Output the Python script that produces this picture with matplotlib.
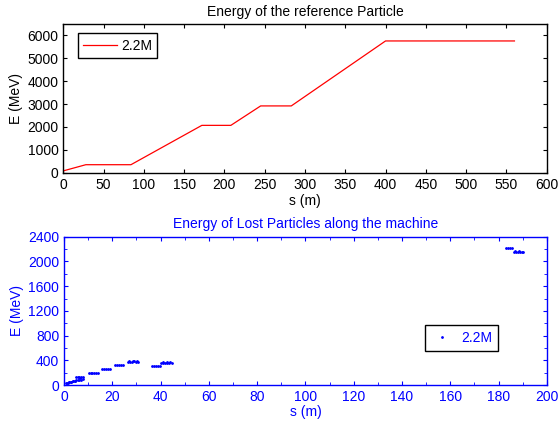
import matplotlib.pyplot as plt
from matplotlib.ticker import MultipleLocator

plt.rcParams['font.family'] = ['Liberation Sans', 'DejaVu Sans']

# reference particle energy along the machine
s_ref = [0, 28, 84, 172, 208, 245, 283, 400, 560]
E_ref = [80, 350, 350, 2070, 2070, 2920, 2920, 5760, 5760]

# lost particles (s in m, E in MeV)
s_lost = [0.8, 1.5, 2.2, 3.0, 3.8, 4.5, 1.2, 2.0, 2.8, 3.6, 4.4,
          4.8, 5.6, 6.4, 7.2, 8.0, 4.8, 5.6, 6.4, 7.2, 8.0, 6.5,
          10.2, 11.0, 11.8, 12.6, 13.4, 14.0,
          15.7, 16.5, 17.3, 18.1, 19.0,
          21.2, 22.0, 22.8, 23.6, 24.5,
          26.6, 27.4, 28.2, 29.0, 29.8, 30.8, 27.0, 28.6, 30.2,
          36.4, 37.2, 38.0, 38.8, 39.7,
          40.3, 41.2, 42.0, 42.8, 43.6, 44.8, 41.0, 42.6, 44.0,
          183.2, 184.0, 184.8, 185.6,
          186.6, 187.4, 188.2, 189.0, 189.8, 187.0, 188.6, 190.2]
E_lost = [30, 38, 45, 52, 60, 66, 40, 48, 55, 62, 68,
          82, 84, 86, 88, 90, 128, 130, 132, 134, 135, 110,
          198, 200, 199, 201, 200, 198,
          254, 256, 255, 253, 255,
          322, 324, 325, 323, 324,
          372, 376, 380, 382, 378, 374, 385, 384, 383,
          305, 308, 310, 307, 305,
          356, 360, 364, 362, 358, 360, 368, 366, 365,
          2212, 2214, 2215, 2213,
          2150, 2155, 2160, 2158, 2152, 2165, 2163, 2160]

fig = plt.figure(figsize=(5.58, 4.23), dpi=100)

# top panel
ax1 = fig.add_axes([0.1134, 0.5917, 0.8663, 0.3515])
ax1.plot(s_ref, E_ref, color='red', linewidth=0.9, label='2.2M')
ax1.set_xlim(0, 600)
ax1.set_ylim(0, 6500)
ax1.xaxis.set_major_locator(MultipleLocator(50))
ax1.yaxis.set_major_locator(MultipleLocator(1000))
ax1.tick_params(direction='in', length=3, top=True, right=True, labelsize=10)
ax1.set_xlabel('s (m)', fontsize=10, labelpad=2)
ax1.set_ylabel('E (MeV)', fontsize=10, labelpad=3)
ax1.set_title('Energy of the reference Particle', fontsize=10, pad=6)
leg1 = ax1.legend(loc='upper left', bbox_to_anchor=(0.03, 0.94), fontsize=10,
                  handlelength=2.4, handletextpad=0.3, fancybox=False,
                  framealpha=1, edgecolor='black', borderaxespad=0)
leg1.get_frame().set_linewidth(1.0)
for sp in ax1.spines.values():
    sp.set_linewidth(1.0)

# bottom panel
blue = '#0000ff'
ax2 = fig.add_axes([0.1147, 0.0898, 0.8652, 0.3506])
ax2.plot(s_lost, E_lost, '.', color=blue, markersize=2, label='2.2M')
ax2.set_xlim(0, 200)
ax2.set_ylim(0, 2400)
ax2.xaxis.set_major_locator(MultipleLocator(20))
ax2.xaxis.set_minor_locator(MultipleLocator(10))
ax2.yaxis.set_major_locator(MultipleLocator(400))
ax2.yaxis.set_minor_locator(MultipleLocator(200))
ax2.tick_params(which='both', direction='in', top=True, right=True, colors=blue, labelsize=10)
ax2.tick_params(which='major', length=3)
ax2.tick_params(which='minor', length=2)
ax2.set_xlabel('s (m)', fontsize=10, color=blue, labelpad=1)
ax2.set_ylabel('E (MeV)', fontsize=10, color=blue, labelpad=3)
ax2.set_title('Energy of Lost Particles along the machine', fontsize=10, color=blue, pad=6)
for sp in ax2.spines.values():
    sp.set_color(blue)
    sp.set_linewidth(1.0)
leg2 = ax2.legend(loc='center left', bbox_to_anchor=(0.748, 0.317), fontsize=10,
                  handlelength=1.6, handletextpad=0.6, markerscale=1, fancybox=False,
                  framealpha=1, edgecolor='black', borderaxespad=0)
for t in leg2.get_texts():
    t.set_color(blue)

plt.savefig('out.png', dpi=100)
